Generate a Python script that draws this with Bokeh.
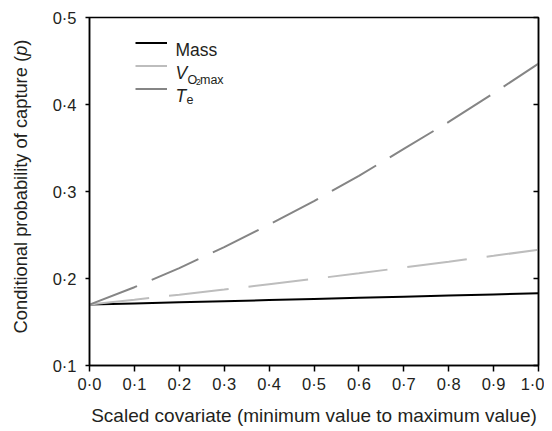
import math
from bokeh.plotting import figure
from bokeh.layouts import row
from bokeh.models import (Range1d, LinearAxis, FixedTicker, Label, Legend, LegendItem,
                          CustomJSTickFormatter, ColumnDataSource)
from bokeh.embed import file_html
from bokeh.resources import INLINE

# ---- data ----
covariate = [0.0, 0.1, 0.2, 0.3, 0.4, 0.5, 0.6, 0.7, 0.8, 0.9, 1.0]
p_mass = [0.170, 0.1713, 0.1726, 0.1739, 0.1752, 0.1765, 0.1778, 0.1791, 0.1804, 0.1817, 0.183]
p_vo2max = [0.170, 0.1756, 0.1814, 0.1873, 0.1934, 0.1996, 0.2060, 0.2126, 0.2193, 0.2261, 0.233]
p_te = [0.170, 0.190, 0.212, 0.236, 0.262, 0.289, 0.318, 0.349, 0.380, 0.413, 0.447]
x_ticks = [0.0, 0.1, 0.2, 0.3, 0.4, 0.5, 0.6, 0.7, 0.8, 0.9, 1.0]
y_ticks = [0.1, 0.2, 0.3, 0.4, 0.5]
x_tick_labels = {v: ("%.1f" % v).replace(".", "\u00b7") for v in x_ticks}
y_tick_labels = {v: ("%.1f" % v).replace(".", "\u00b7") for v in y_ticks}

FONT = "Liberation Sans"
TXT = "#231f20"

LEFT_W = 40
TOP, FRAME_H, BOTTOM = 17, 348, 58
p = figure(frame_width=449, frame_height=FRAME_H, output_backend="svg", toolbar_location=None,
           x_range=Range1d(0, 1), y_range=Range1d(0.1, 0.5),
           min_border_left=89 - LEFT_W, min_border_right=6, min_border_top=TOP,
           min_border_bottom=BOTTOM, x_axis_location=None, y_axis_location=None)
p.grid.visible = False
p.outline_line_color = "black"
p.outline_line_width = 1.5
p.background_fill_color = "white"
p.border_fill_color = "white"

src = ColumnDataSource(dict(x=covariate, mass=p_mass, vo2=p_vo2max, te=p_te))

p.line("x", "mass", source=src, line_color="black", line_width=2)
p.line("x", "vo2", source=src, line_color="#bdbdbd", line_width=2, line_dash="60 20")
p.line("x", "te", source=src, line_color="#858585", line_width=2, line_dash="51 16")

# ---- axes ----
xaxis = LinearAxis(ticker=FixedTicker(ticks=x_ticks), major_label_overrides=x_tick_labels)
xaxis.axis_label = "Scaled covariate (minimum value to maximum value)"
xaxis.axis_label_text_font = FONT
xaxis.axis_label_text_font_style = "normal"
xaxis.axis_label_text_font_size = "19px"
xaxis.axis_label_text_color = TXT
xaxis.axis_label_standoff = 9
xaxis.major_label_text_font = FONT
xaxis.major_label_text_font_size = "16.5px"
xaxis.major_label_text_color = TXT
xaxis.major_label_standoff = 3
xaxis.major_tick_in = 0
xaxis.major_tick_out = 6
xaxis.minor_tick_line_color = None
xaxis.axis_line_width = 1.5
xaxis.major_tick_line_width = 1.5
p.add_layout(xaxis, "below")

yaxis = LinearAxis(ticker=FixedTicker(ticks=y_ticks), major_label_overrides=y_tick_labels)
yaxis.major_label_text_font = FONT
yaxis.major_label_text_font_size = "16.5px"
yaxis.major_label_text_color = TXT
yaxis.major_label_standoff = 9
yaxis.major_tick_in = 0
yaxis.major_tick_out = 4
yaxis.minor_tick_line_color = None
yaxis.axis_line_width = 1.5
yaxis.major_tick_line_width = 1.5
p.add_layout(yaxis, "left")

raxis = LinearAxis(ticker=FixedTicker(ticks=y_ticks),
                   formatter=CustomJSTickFormatter(code="return ''"))
raxis.major_tick_in = 5
raxis.major_tick_out = 0
raxis.minor_tick_line_color = None
raxis.axis_line_width = 1.5
raxis.major_tick_line_width = 1.5
raxis.major_label_standoff = 0
p.add_layout(raxis, "right")

# ---- legend: solid sample lines (hidden renderers, shown only as legend glyphs) ----
r_mass = p.line("x", "mass", source=src, line_color="black", line_width=2, visible=False)
r_vo2 = p.line("x", "vo2", source=src, line_color="#bdbdbd", line_width=2, visible=False)
r_te = p.line("x", "te", source=src, line_color="#858585", line_width=2, visible=False)
legend = Legend(items=[LegendItem(label=" ", renderers=[r_mass]),
                       LegendItem(label=" ", renderers=[r_vo2]),
                       LegendItem(label=" ", renderers=[r_te])],
                location=(46, 265), padding=0, margin=0, spacing=0,
                glyph_width=32, glyph_height=23, label_height=23, label_width=0,
                label_standoff=0, border_line_alpha=0, background_fill_alpha=0,
                label_text_font_size="1px", click_policy="none")
p.add_layout(legend)

def lab(fig, text, x, y, size, style="normal", angle=0.0, align="left", baseline="alphabetic"):
    fig.add_layout(Label(x=x, y=y, text=text, text_font=FONT, text_font_style=style,
                         text_font_size=size, text_color=TXT, angle=angle,
                         text_align=align, text_baseline=baseline))

lab(p, "Mass", 0.1915, 0.4629, "17.5px")
lab(p, "V", 0.1915, 0.4364, "17.5px", "italic")
lab(p, "O", 0.2183, 0.4276, "12.5px")
lab(p, "2", 0.2372, 0.4264, "8.5px")
lab(p, "max", 0.2461, 0.4276, "12.5px")
lab(p, "T", 0.1915, 0.4103, "17.5px", "italic")
lab(p, "e", 0.2160, 0.4057, "12.5px")

# ---- y axis label in a narrow strip figure; its frame matches the main frame,
#      data units = pixels measured up from the frame bottom ----
fy = figure(frame_width=LEFT_W, frame_height=FRAME_H, output_backend="svg", toolbar_location=None,
            x_range=Range1d(0, LEFT_W), y_range=Range1d(0, FRAME_H),
            min_border_left=0, min_border_right=0, min_border_top=TOP, min_border_bottom=BOTTOM,
            x_axis_location=None, y_axis_location=None)
fy.grid.visible = False
fy.outline_line_color = None
fy.background_fill_color = "white"
fy.border_fill_color = "white"

ysz = 18.3
frame_bottom = TOP + FRAME_H
y0 = frame_bottom - 333
w1 = 15.173 * ysz
w2 = 0.556 * ysz
w3 = 0.333 * ysz
fs = "%.1fpx" % ysz
xc = 19.5
lab(fy, "Conditional probability of capture (", xc, y0 + w1 / 2, fs, "normal", math.pi / 2, "center", "middle")
lab(fy, "p", xc, y0 + w1 + w2 / 2, fs, "italic", math.pi / 2, "center", "middle")
lab(fy, ")", xc, y0 + w1 + w2 + w3 / 2, fs, "normal", math.pi / 2, "center", "middle")

layout = row(fy, p, spacing=0)
open("out.html", "w").write(file_html(layout, INLINE))
